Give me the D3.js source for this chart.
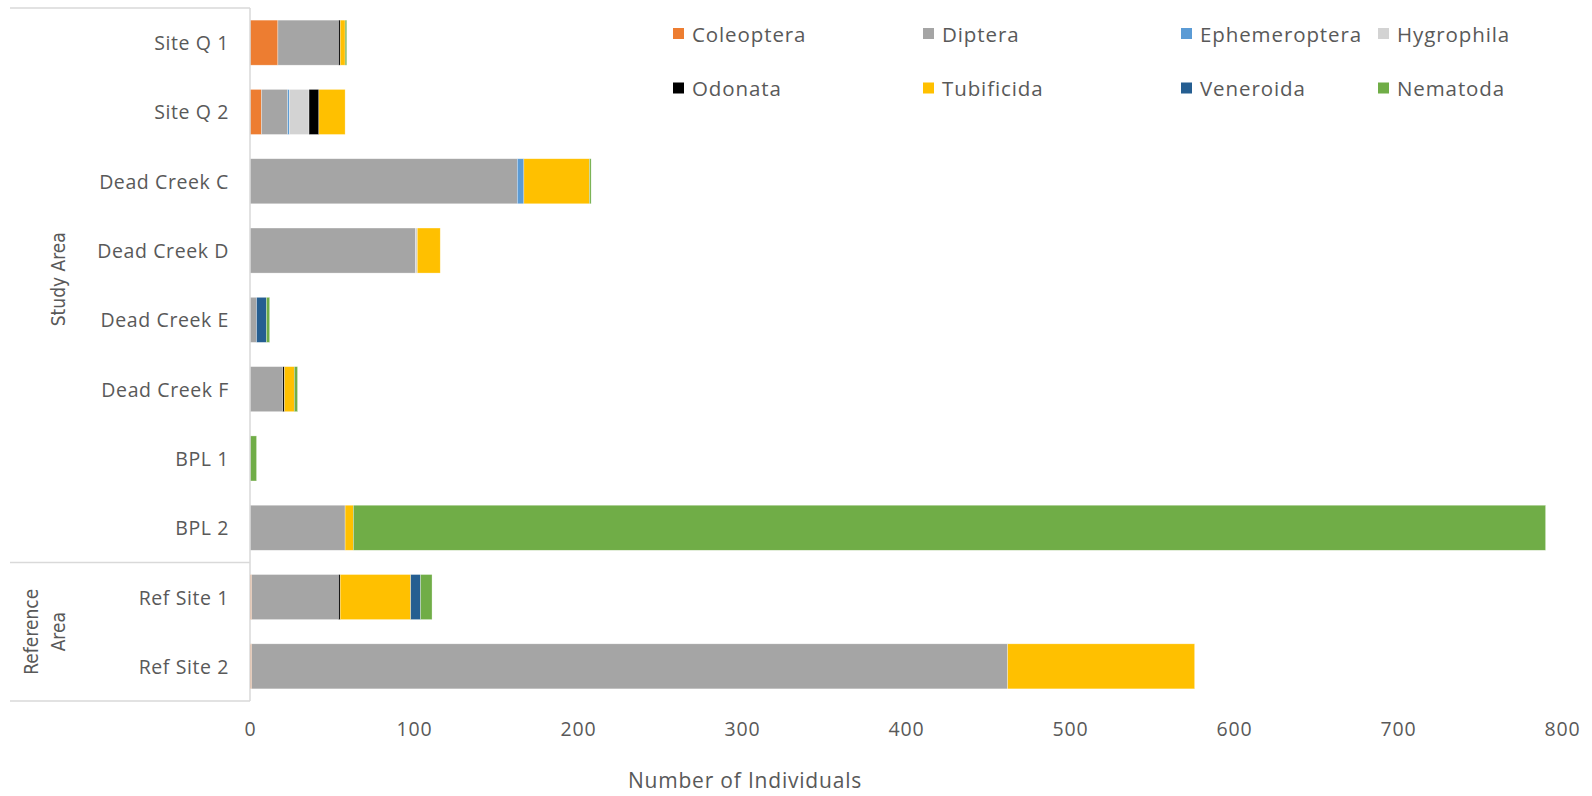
<!DOCTYPE html>
<html>
<head>
<meta charset="utf-8">
<script src="https://cdn.jsdelivr.net/npm/d3@7"></script>
<style>
  html, body { margin: 0; padding: 0; background: #fff; }
  svg { display: block; }
  text { font-family: "Open Sans", "Noto Sans", sans-serif; fill: #595959; }
</style>
</head>
<body>
<svg id="chart" width="1592" height="796"></svg>
<script>
const categories = ["Site Q 1","Site Q 2","Dead Creek C","Dead Creek D","Dead Creek E","Dead Creek F","BPL 1","BPL 2","Ref Site 1","Ref Site 2"];
const seriesNames = ["Coleoptera","Diptera","Ephemeroptera","Hygrophila","Odonata","Tubificida","Veneroida","Nematoda"];
const seriesColors = ["#ED7D31","#A5A5A5","#5B9BD5","#D3D3D3","#000000","#FFC000","#255E91","#70AD47"];
const coleoptera    = [17, 7, 0, 0, 0, 0, 0, 0, 1, 1];
const diptera       = [37, 16, 163, 101, 4, 20, 0, 58, 53, 461];
const ephemeroptera = [0, 1, 4, 0, 0, 0, 0, 0, 0, 0];
const hygrophila    = [0, 12, 0, 1, 0, 0, 0, 0, 0, 0];
const odonata       = [1, 6, 0, 0, 0, 1, 0, 0, 1, 0];
const tubificida    = [3, 16, 40, 14, 0, 6, 0, 5, 43, 114];
const veneroida     = [0, 0, 0, 0, 6, 0, 0, 0, 6, 0];
const nematoda      = [1, 0, 1, 0, 2, 2, 4, 727, 7, 0];
const xTicks = [0,100,200,300,400,500,600,700,800];
const groups = [
  {lines: ["Study Area"], from: 0, to: 7},
  {lines: ["Reference", "Area"], from: 8, to: 9}
];
const axisTitle = "Number of Individuals";

const seriesValues = [coleoptera, diptera, ephemeroptera, hygrophila, odonata, tubificida, veneroida, nematoda];
const table = categories.map((c, i) => {
  const row = {category: c};
  seriesNames.forEach((s, j) => row[s] = seriesValues[j][i]);
  return row;
});
const stacked = d3.stack().keys(seriesNames)(table);

const svg = d3.select("#chart");
const plotLeft = 250, plotRight = 1562, plotTop = 8, plotBottom = 701;

const x = d3.scaleLinear().domain([0, 800]).range([plotLeft, plotRight]);
const y = d3.scaleBand().domain(categories).range([plotTop, plotBottom]).paddingInner(0.35).paddingOuter(0.175);
const color = d3.scaleOrdinal().domain(seriesNames).range(seriesColors);

// bars
svg.append("g").selectAll("g").data(stacked).join("g")
  .attr("fill", d => color(d.key))
  .selectAll("rect").data(d => d).join("rect")
  .attr("x", d => x(d[0]))
  .attr("y", d => y(d.data.category))
  .attr("width", d => Math.max(0, x(d[1]) - x(d[0])))
  .attr("height", y.bandwidth())
  .attr("stroke", "rgba(255,255,255,0.5)")
  .attr("stroke-width", 0.6);

// left frame lines
const lineColor = "#D9D9D9";
svg.append("line").attr("x1", plotLeft).attr("x2", plotLeft).attr("y1", plotTop).attr("y2", plotBottom)
  .attr("stroke", lineColor).attr("stroke-width", 1.5);
const sepY = (y(categories[7]) + y.bandwidth() + y(categories[8])) / 2;
[plotTop, sepY, plotBottom].forEach(yy => {
  svg.append("line").attr("x1", 10).attr("x2", plotLeft).attr("y1", yy).attr("y2", yy)
    .attr("stroke", lineColor).attr("stroke-width", 1.5);
});

// category labels
svg.append("g").selectAll("text").data(categories).join("text")
  .attr("x", plotLeft - 21)
  .attr("y", d => y(d) + y.bandwidth() / 2)
  .attr("text-anchor", "end")
  .attr("dominant-baseline", "central")
  .attr("font-size", 19.5)
  .attr("letter-spacing", 0.6)
  .text(d => d);

// group labels
const bounds = [plotTop, sepY, plotBottom];
groups.forEach((g, gi) => {
  const cy = (bounds[gi] + bounds[gi + 1]) / 2 - (gi === 0 ? 6 : 0);
  const n = g.lines.length;
  g.lines.forEach((ln, li) => {
    const cx = 58 - (n - 1 - li) * 27;
    svg.append("text")
      .attr("transform", `translate(${cx},${cy}) rotate(-90)`)
      .attr("text-anchor", "middle")
      .attr("dominant-baseline", "central")
      .attr("font-size", 19)
      .style("font-family", "'Liberation Sans Narrow', 'DejaVu Sans Condensed', 'Open Sans', sans-serif")
      .text(ln);
  });
});

// x axis
const xAxis = d3.axisBottom(x).tickValues(xTicks).tickSize(0).tickPadding(0).tickFormat(d3.format("d"));
const ax = svg.append("g").attr("transform", `translate(0, 722)`).call(xAxis);
ax.select(".domain").remove();
ax.selectAll("text").attr("font-size", 19.5).attr("letter-spacing", 0.8).attr("fill", "#595959")
  .style("font-family", "'Open Sans', sans-serif");

svg.append("text").attr("x", 745).attr("y", 780)
  .attr("text-anchor", "middle").attr("dominant-baseline", "central")
  .attr("font-size", 21).attr("letter-spacing", 0.8).text(axisTitle);

// legend
const legCols = [673, 923, 1181, 1378];
const legRows = [33.5, 88];
const leg = svg.append("g").selectAll("g").data(seriesNames).join("g")
  .attr("transform", (d, i) => `translate(${legCols[i % 4]},${legRows[Math.floor(i / 4)]})`);
leg.append("rect").attr("x", 0).attr("y", -5.5).attr("width", 11).attr("height", 11).attr("fill", d => color(d));
leg.append("text").attr("x", 19).attr("y", 0).attr("dominant-baseline", "central")
  .attr("font-size", 20.5).attr("letter-spacing", 0.9).text(d => d);
</script>
</body>
</html>
